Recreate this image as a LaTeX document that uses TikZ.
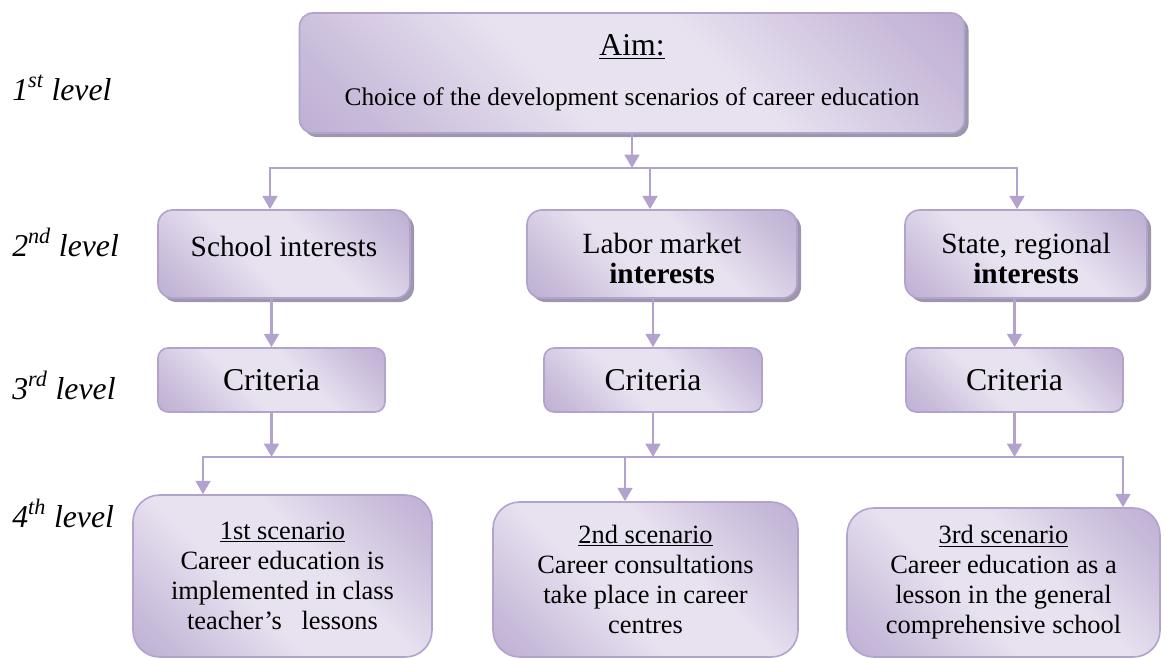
\documentclass[tikz,border=0pt]{standalone}
\usepackage{fontspec}
\setmainfont{Liberation Serif}
\usepackage{tikz}
\usetikzlibrary{arrows.meta,shadows}
\definecolor{lilacdark}{RGB}{172,154,199}
\definecolor{lilaclight}{RGB}{232,226,240}
\colorlet{lilacmid}{lilacdark!55!lilaclight}
\definecolor{lilacline}{RGB}{178,162,206}
\definecolor{lilacshadow}{RGB}{158,150,170}
\pgfdeclareverticalshading{lilacfade}{100bp}{color(0bp)=(lilacdark); color(22bp)=(lilacmid); color(42bp)=(lilaclight); color(58bp)=(lilaclight); color(78bp)=(lilacmid); color(100bp)=(lilacdark)}
\tikzstyle{box} = [draw=lilacline, line width=1.2pt, shading=lilacfade, shading angle=-45, align=center, inner sep=0pt]
\tikzstyle{aimbox} = [box, rounded corners=10pt, minimum width=498.75pt, minimum height=90pt, drop shadow={shadow xshift=3pt, shadow yshift=-3pt, fill=lilacshadow, opacity=1}, font=\fontsize{19}{22.5}\selectfont]
\tikzstyle{interbox} = [box, rounded corners=11pt, minimum height=66pt, drop shadow={shadow xshift=3pt, shadow yshift=-3pt, fill=lilacshadow, opacity=1}, font=\fontsize{22}{22.5}\selectfont]
\tikzstyle{critbox} = [box, rounded corners=7.5pt, minimum height=48pt, font=\fontsize{23.8}{26}\selectfont]
\tikzstyle{scenbox} = [box, rounded corners=20pt, font=\fontsize{19.8}{22.5}\selectfont]
\tikzstyle{lvl} = [anchor=base west, inner sep=0pt, font=\fontsize{23.8}{26}\selectfont\itshape]
\tikzstyle{link} = [draw=lilacline, line width=2pt, -{Triangle[length=10pt,width=11pt]}]

\begin{document}
\begin{tikzpicture}[x=0.75pt, y=-0.75pt]
  \useasboundingbox (0,0) rectangle (1171,658);

  % levels
  \node (v1) at (12,100) [lvl] {1\textsuperscript{st} level};
  \node (v2) at (12,256) [lvl] {2\textsuperscript{nd} level};
  \node (v3) at (12,399) [lvl] {3\textsuperscript{rd} level};
  \node (v4) at (12,527) [lvl] {4\textsuperscript{th} level};

  % boxes
  \node (a) at (632,73) [aimbox] {{\fontsize{23.8}{26}\selectfont\underline{Aim:}}\\[15pt]Choice of the development scenarios of career education};
  \node (b) at (284,254) [interbox, minimum width=189pt, text depth=12pt] {School interests};
  \node (c) at (662,254) [interbox, minimum width=202.5pt, text height=45pt] {Labor market\\\textbf{interests}};
  \node (d) at (1026,254) [interbox, minimum width=181.5pt, text height=45pt] {State, regional\\\textbf{interests}};
  \node (e) at (271.5,380) [critbox, minimum width=170.25pt] {Criteria};
  \node (f) at (653,380) [critbox, minimum width=163.5pt] {Criteria};
  \node (g) at (1014.5,380) [critbox, minimum width=162.75pt] {Criteria};
  \node (h) at (282.5,576) [scenbox, minimum width=224.25pt, minimum height=121.5pt] {\underline{1st scenario}\\Career education is\\implemented in class\\teacher’s\ \ \ lessons};
  \node (i) at (645.5,579.5) [scenbox, minimum width=228.75pt, minimum height=116.25pt] {\underline{2nd scenario}\\Career consultations\\take place in career\\centres};
  \node (j) at (1003.5,582.5) [scenbox, minimum width=234.75pt, minimum height=111.75pt] {\underline{3rd scenario}\\Career education as a\\lesson in the general\\comprehensive school};

  % junctions
  \coordinate (p) at (270,168);
  \coordinate (q) at (650,168);
  \coordinate (r) at (1017,168);
  \coordinate (s) at (203,457);
  \coordinate (t) at (625,457);
  \coordinate (u) at (1123,457);

  \draw [link] (a.south) -- (a.south |- q);
  \draw [link] (q) -- (p) -- (p |- b.north);
  \draw [link] (q) -- (q |- c.north);
  \draw [link] (q) -- (r) -- (r |- d.north);

  \draw [link] (b.south -| e.north) -- (e.north);
  \draw [link] (c.south -| f.north) -- (f.north);
  \draw [link] (d.south -| g.north) -- (g.north);

  \draw [link] (e.south) -- (e.south |- s);
  \draw [link] (f.south) -- (f.south |- s);
  \draw [link] (g.south) -- (g.south |- s);

  \draw [link] (t) -- (s) -- (s |- h.north);
  \draw [link] (t) -- (t |- i.north);
  \draw [link] (t) -- (u) -- (u |- j.north);
\end{tikzpicture}
\end{document}
